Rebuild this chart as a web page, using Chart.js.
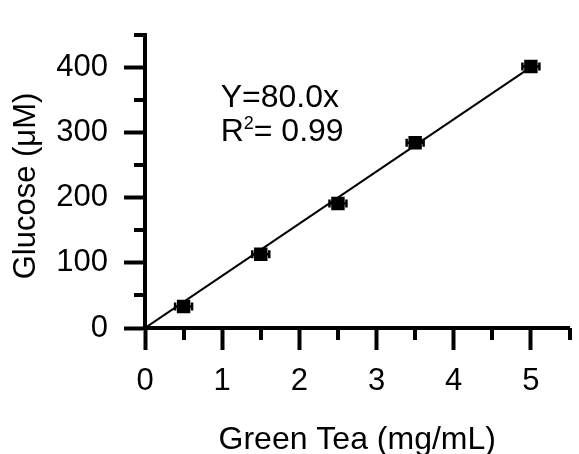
<!DOCTYPE html>
<html>
<head>
<meta charset="utf-8">
<script src="https://cdn.jsdelivr.net/npm/chart.js@4/dist/chart.umd.min.js"></script>
<style>
    html, body { margin: 0; padding: 0; background: #fff; }
</style>
</head>
<body>
<canvas id="glucoseChart" width="579" height="454"></canvas>
<script>
// values
const concentration = [0.5, 1.5, 2.5, 3.5, 5];
const glucose = [33, 113, 191, 284, 401];
const concErr = [0.11, 0.11, 0.11, 0.11, 0.11];
const glucoseErr = [6, 6, 6, 6, 6];
const fitSlope = 80.0;
const fitRange = [0, 5];
const xTicks = [0, 1, 2, 3, 4, 5];
const yTicks = [0, 100, 200, 300, 400];
const xMinorTicks = [0.5, 1.5, 2.5, 3.5, 4.5, 5.5];
const yMinorTicks = [50, 150, 250, 350, 450];

const FONT = '"Liberation Sans", Arial, sans-serif';

const points = concentration.map((x, i) => ({ x: x, y: glucose[i] }));
const fitLine = fitRange.map(x => ({ x: x, y: fitSlope * x }));

// error bars + minor ticks + equation text + y title
const extras = {
    id: 'extras',
    beforeDatasetsDraw(chart) {
        const ctx = chart.ctx;
        const xs = chart.scales.x, ys = chart.scales.y;
        ctx.save();
        ctx.strokeStyle = '#000';
        ctx.lineWidth = 2.5;
        const cap = 4;
        points.forEach((p, i) => {
            const px = xs.getPixelForValue(p.x);
            const py = ys.getPixelForValue(p.y);
            const x0 = xs.getPixelForValue(p.x - concErr[i]);
            const x1 = xs.getPixelForValue(p.x + concErr[i]);
            const y0 = ys.getPixelForValue(p.y - glucoseErr[i]);
            const y1 = ys.getPixelForValue(p.y + glucoseErr[i]);
            ctx.beginPath();
            ctx.moveTo(x0, py); ctx.lineTo(x1, py);
            ctx.moveTo(x0, py - cap); ctx.lineTo(x0, py + cap);
            ctx.moveTo(x1, py - cap); ctx.lineTo(x1, py + cap);
            ctx.moveTo(px, y0); ctx.lineTo(px, y1);
            ctx.moveTo(px - cap, y0); ctx.lineTo(px + cap, y0);
            ctx.moveTo(px - cap, y1); ctx.lineTo(px + cap, y1);
            ctx.stroke();
        });
        ctx.restore();
    },
    afterDraw(chart) {
        const ctx = chart.ctx;
        const xs = chart.scales.x, ys = chart.scales.y;
        const area = chart.chartArea;
        ctx.save();
        ctx.strokeStyle = '#000';
        ctx.lineWidth = 4;
        ctx.beginPath();
        xMinorTicks.forEach(v => {
            const px = Math.round(xs.getPixelForValue(v));
            ctx.moveTo(px, area.bottom);
            ctx.lineTo(px, area.bottom + 12);
        });
        yMinorTicks.forEach(v => {
            const py = Math.round(ys.getPixelForValue(v));
            ctx.moveTo(area.left, py);
            ctx.lineTo(area.left - 11, py);
        });
        ctx.stroke();

        // equation
        ctx.fillStyle = '#000';
        ctx.textBaseline = 'alphabetic';
        ctx.textAlign = 'left';
        ctx.font = '32px ' + FONT;
        const tx = xs.getPixelForValue(0.98);
        ctx.fillText('Y=80.0x', tx, 107);
        ctx.fillText('R', tx, 141);
        const rw = ctx.measureText('R').width;
        ctx.font = '18px ' + FONT;
        ctx.fillText('2', tx + rw, 129);
        const sw = ctx.measureText('2').width;
        ctx.font = '32px ' + FONT;
        ctx.fillText('= 0.99', tx + rw + sw, 141);

        // y axis title
        ctx.translate(35, 186);
        ctx.rotate(-Math.PI / 2);
        ctx.textAlign = 'center';
        ctx.textBaseline = 'alphabetic';
        ctx.font = '31px ' + FONT;
        ctx.fillText('Glucose (\u03BCM)', 0, 0);
        ctx.restore();
    }
};

const ctx = document.getElementById('glucoseChart').getContext('2d');
const glucoseChart = new Chart(ctx, {
    type: 'scatter',
    data: {
        datasets: [
            {
                label: 'fit',
                data: fitLine,
                showLine: true,
                borderColor: '#000',
                borderWidth: 2,
                pointRadius: 0,
                fill: false
            },
            {
                label: 'Glucose',
                data: points,
                pointStyle: 'rect',
                pointRadius: 9.5,
                backgroundColor: '#000',
                borderColor: '#000',
                borderWidth: 0
            }
        ]
    },
    options: {
        responsive: false,
        animation: false,
        devicePixelRatio: 1,
        layout: { padding: { top: 17, right: 3, left: 0, bottom: 0 } },
        plugins: {
            legend: { display: false },
            tooltip: { enabled: false }
        },
        scales: {
            x: {
                type: 'linear',
                min: 0,
                max: 5.5,
                afterBuildTicks: scale => { scale.ticks = xTicks.map(v => ({ value: v })); },
                afterFit: scale => { scale.height = 126; },
                border: { color: '#000', width: 4 },
                grid: {
                    drawOnChartArea: false,
                    drawTicks: true,
                    tickLength: 22,
                    tickWidth: 4,
                    tickColor: '#000'
                },
                ticks: {
                    color: '#000',
                    font: { family: FONT, size: 31 },
                    padding: 13,
                    maxRotation: 0,
                    autoSkip: false
                },
                title: {
                    display: true,
                    text: 'Green Tea (mg/mL)',
                    color: '#000',
                    font: { family: FONT, size: 32 },
                    padding: { top: 0, bottom: -5 }
                }
            },
            y: {
                type: 'linear',
                min: 0,
                max: 450,
                afterBuildTicks: scale => { scale.ticks = yTicks.map(v => ({ value: v })); },
                afterFit: scale => { scale.width = 145; },
                border: { color: '#000', width: 4 },
                grid: {
                    drawOnChartArea: false,
                    drawTicks: true,
                    tickLength: 21,
                    tickWidth: 4,
                    tickColor: '#000'
                },
                ticks: {
                    color: '#000',
                    font: { family: FONT, size: 31 },
                    padding: 16,
                    autoSkip: false
                }
            }
        }
    },
    plugins: [extras]
});
</script>
</body>
</html>
